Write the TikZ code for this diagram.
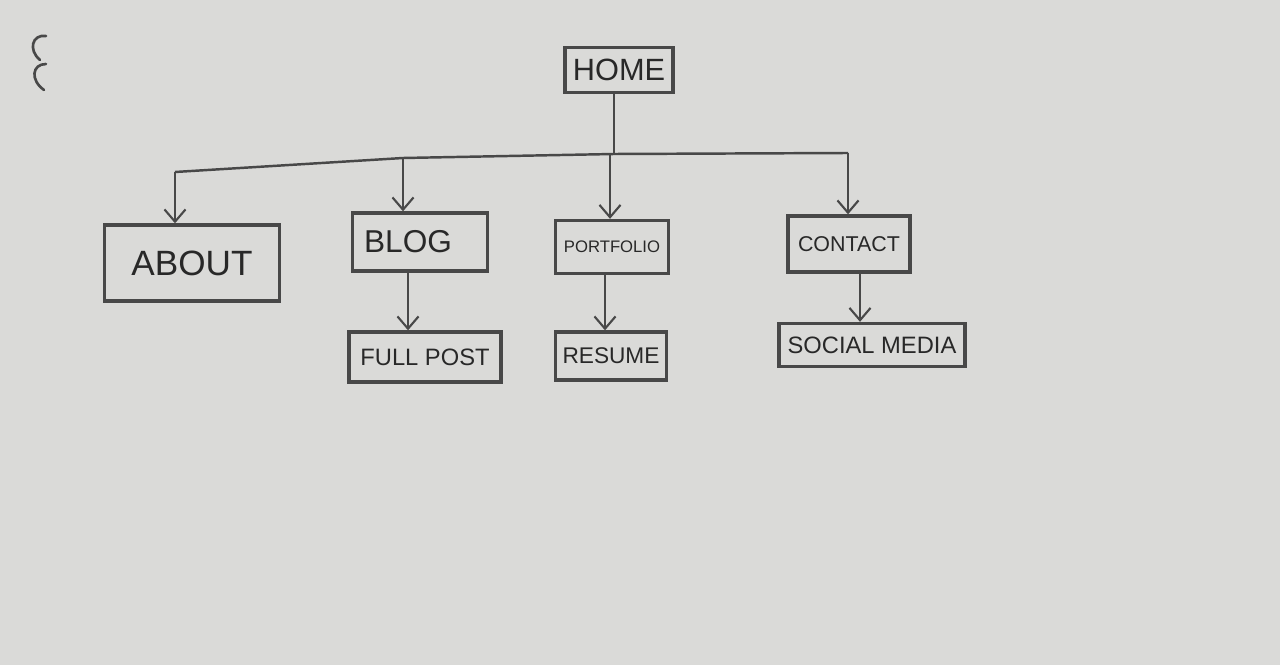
\documentclass[tikz,border=0pt]{standalone}
\usepackage{fontspec}
\setmainfont{Liberation Sans}
\usetikzlibrary{arrows.meta}
\definecolor{paper}{RGB}{218,218,216}
\definecolor{ink}{RGB}{72,72,72}
\definecolor{txt}{RGB}{40,40,40}
\tikzset{
  box/.style={draw=ink, line width=1.9pt, fill=paper, text=txt, inner sep=0pt, anchor=center},
  wire/.style={draw=ink, line width=1.4pt},
  arr/.style={wire, -{Straight Barb[length=7pt,width=12pt,line width=1.2pt]}},
}
\begin{document}
\begin{tikzpicture}[x=0.02cm,y=-0.02cm]
\path[fill=paper] (0,0) rectangle (1280,665);
\useasboundingbox (0,0) rectangle (1280,665);
% marks at top left
\draw[ink, line width=1.5pt, line cap=round] (46,36) .. controls (32,34) and (28,50) .. (40,60);
\draw[ink, line width=1.5pt, line cap=round] (46,64) .. controls (32,64) and (30,80) .. (44,90);
% nodes
\node[box, minimum width=108*0.02cm, minimum height=45*0.02cm, font=\fontsize{17.5}{20}\selectfont] (home) at (619,70) {HOME};
\node[box, minimum width=175*0.02cm, minimum height=76*0.02cm, font=\fontsize{20}{22}\selectfont] (about) at (192,263) {ABOUT};
\node[box, minimum width=135*0.02cm, minimum height=58*0.02cm, font=\fontsize{18}{20}\selectfont] (blog) at (420,242) {\hspace*{-13.6pt}BLOG};
\node[box, minimum width=113*0.02cm, minimum height=53*0.02cm, font=\fontsize{9.5}{11}\selectfont] (portfolio) at (612,247) {PORTFOLIO};
\node[box, minimum width=122*0.02cm, minimum height=56*0.02cm, font=\fontsize{12.2}{14}\selectfont] (contact) at (849,244) {CONTACT};
\node[box, minimum width=152*0.02cm, minimum height=50*0.02cm, font=\fontsize{13.5}{15}\selectfont] (fullpost) at (425,357) {FULL POST};
\node[box, minimum width=111*0.02cm, minimum height=48*0.02cm, font=\fontsize{12.9}{15}\selectfont] (resume) at (611,356) {RESUME};
\node[box, minimum width=186*0.02cm, minimum height=43*0.02cm, font=\fontsize{13.5}{15}\selectfont] (social) at (872,345) {SOCIAL MEDIA};
% bus coordinates
\coordinate (bL) at (175,172);
\coordinate (bB) at (403,158);
\coordinate (bH) at (614,154);
\coordinate (bP) at (610,155);
\coordinate (bR) at (848,153);
\draw[wire] (bH |- home.south) -- (bH);
\draw[wire] (bL) -- (bB) -- (bH) -- (bR);
\draw[arr] (bL) -- (bL |- about.north);
\draw[arr] (bB) -- (bB |- blog.north);
\draw[arr] (bP) -- (bP |- portfolio.north);
\draw[arr] (bR) -- (bR |- contact.north);
% children
\coordinate (cB) at (408,0);
\coordinate (cP) at (605,0);
\coordinate (cC) at (860,0);
\draw[arr] (cB |- blog.south) -- (cB |- fullpost.north);
\draw[arr] (cP |- portfolio.south) -- (cP |- resume.north);
\draw[arr] (cC |- contact.south) -- (cC |- social.north);
\end{tikzpicture}
\end{document}
